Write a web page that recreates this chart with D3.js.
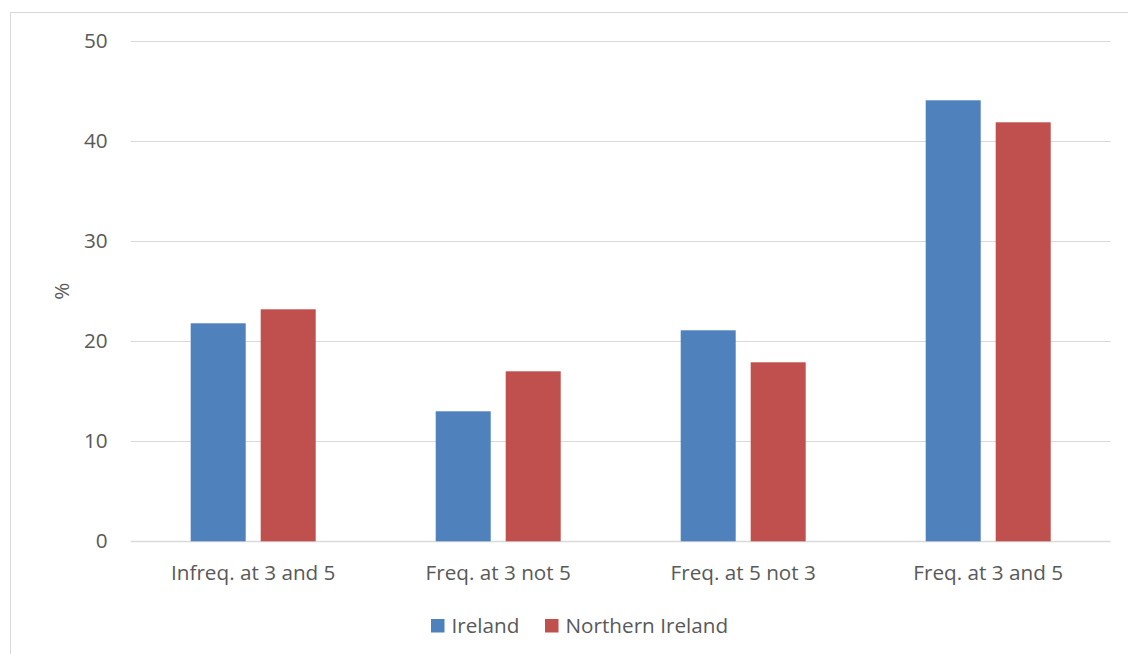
<!DOCTYPE html>
<html>
<head>
<meta charset="utf-8">
<script src="https://cdn.jsdelivr.net/npm/d3@7"></script>
<style>
  body { margin: 0; background: #fff; }
  text { font-family: "Open Sans", sans-serif; fill: #595959; }
</style>
</head>
<body>
<div id="chart"></div>
<script>
// data
var categories = ["Infreq. at 3 and 5", "Freq. at 3 not 5", "Freq. at 5 not 3", "Freq. at 3 and 5"];
var seriesNames = ["Ireland", "Northern Ireland"];
var ireland = [21.8, 13.0, 21.1, 44.1];
var northernIreland = [23.2, 17.0, 17.9, 41.9];
var yTicks = [0, 10, 20, 30, 40, 50];

var W = 1128, H = 654,
	LEFT = 130.7, RIGHT = 1110.7,
	TOP = 41.3, BOTTOM = 541.3,
	BAR_W = 55, BAR_GAP = 15,
	FS = 20.7,
	colors = ["#4F81BD", "#C0504D"];

var svg = d3.select("#chart")
	.append("svg")
		.attr("width", W)
		.attr("height", H);

// outer chart border
svg.append("rect")
	.attr("x", 10.5).attr("y", 12.5)
	.attr("width", W).attr("height", H)
	.attr("fill", "none")
	.attr("stroke", "#d9d9d9");

var x0 = d3.scaleBand().domain(categories).range([LEFT, RIGHT]);
var groupW = 2 * BAR_W + BAR_GAP;
var x1 = d3.scaleBand().domain(seriesNames)
	.range([x0.bandwidth() / 2 - groupW / 2, x0.bandwidth() / 2 + groupW / 2])
	.paddingInner(BAR_GAP / (BAR_W + BAR_GAP))
	.paddingOuter(0);
var y = d3.scaleLinear().domain([0, 50]).range([BOTTOM, TOP]);

// gridlines
svg.append("g")
	.selectAll("line")
	.data(yTicks)
	.enter()
	.append("line")
		.attr("x1", LEFT).attr("x2", RIGHT)
		.attr("y1", function(d) { return Math.round(y(d)) + 0.5; })
		.attr("y2", function(d) { return Math.round(y(d)) + 0.5; })
		.attr("stroke", "#d9d9d9")
		.attr("stroke-width", d => d === 0 ? 1.5 : 1.2);

// y axis labels
var yAxis = d3.axisLeft(y).tickValues(yTicks).tickSize(0).tickPadding(23);
var yg = svg.append("g").attr("transform", "translate(" + LEFT + ",0)").call(yAxis);
yg.select(".domain").remove();
yg.selectAll("text")
	.attr("font-size", FS)
	.attr("font-family", "Open Sans, sans-serif")
	.attr("fill", "#595959");

// bars
var table = categories.map(function(c, i) {
	return [
		{cat: c, name: seriesNames[0], value: ireland[i]},
		{cat: c, name: seriesNames[1], value: northernIreland[i]}
	];
});

var groups = svg.selectAll(".grp")
	.data(table)
	.enter()
	.append("g")
		.attr("class", "grp")
		.attr("transform", function(d) { return "translate(" + x0(d[0].cat) + ",0)"; });

groups.selectAll("rect")
	.data(function(d) { return d; })
	.enter()
	.append("rect")
		.attr("x", function(d) { return x1(d.name); })
		.attr("y", function(d) { return y(d.value); })
		.attr("width", x1.bandwidth())
		.attr("height", function(d) { return y(0) - y(d.value); })
		.attr("fill", function(d, i) { return colors[i]; });

// category labels
var xAxis = d3.axisBottom(x0).tickSize(0).tickPadding(24);
var xg = svg.append("g").attr("transform", "translate(0," + BOTTOM + ")").call(xAxis);
xg.select(".domain").remove();
xg.selectAll("text")
	.attr("font-size", FS)
	.attr("font-family", "Open Sans, sans-serif")
	.attr("fill", "#595959");

// axis title
svg.append("text")
	.attr("transform", "translate(69," + ((TOP + BOTTOM) / 2) + ") rotate(-90)")
	.attr("text-anchor", "middle")
	.attr("font-size", FS)
	.text("%");

// legend
var legendX = [431, 545];
var legend = svg.selectAll(".leg")
	.data(seriesNames)
	.enter()
	.append("g")
		.attr("class", "leg")
		.attr("transform", function(d, i) { return "translate(" + legendX[i] + ",619)"; });

legend.append("rect")
	.attr("width", 13.5).attr("height", 13.5)
	.attr("fill", function(d, i) { return colors[i]; });

legend.append("text")
	.attr("x", 20.5)
	.attr("y", 13.5)
	.attr("font-size", FS)
	.text(function(d) { return d; });
</script>
</body>
</html>
